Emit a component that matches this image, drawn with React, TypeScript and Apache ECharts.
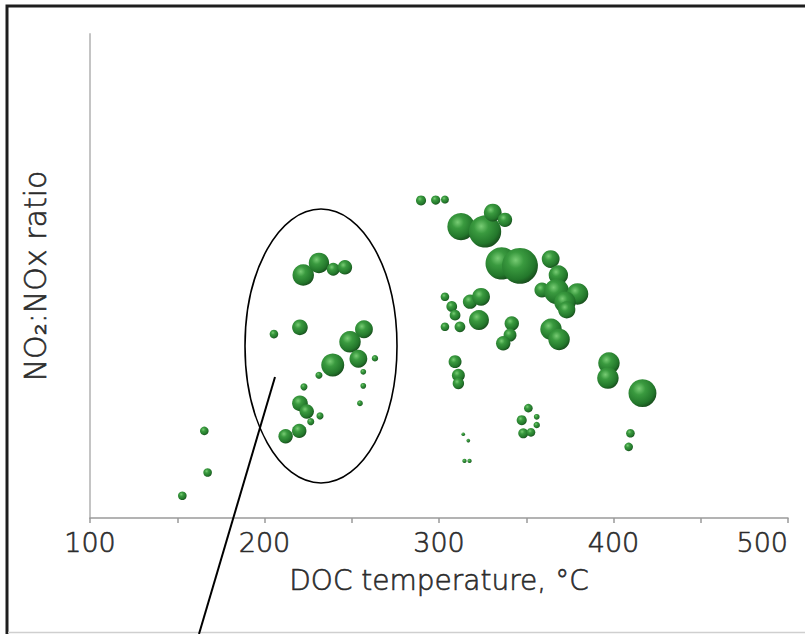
import React, { useEffect, useRef } from "react";
import * as echarts from "echarts";

// DOC temperature (°C)
const docTemperature = [
  152.9, 167.4, 165.5,
  222.2, 231.2, 239.4, 246.1, 205.4, 220.3, 257.0, 249.0, 253.8, 239.1, 263.3, 256.6, 256.6, 254.7,
  231.2, 222.6, 220.3, 224.2, 226.5, 231.8, 219.9, 212.1,
  289.7, 298.1, 303.4, 312.6, 326.4, 330.8, 337.8, 335.9, 346.4, 364.0, 368.4, 359.0, 367.4, 379.4, 372.2, 373.2,
  303.4, 307.3, 309.2, 303.4, 312.0, 317.8, 324.1, 322.9, 341.7, 340.7, 336.8, 364.2, 368.8, 309.2, 311.1, 311.1,
  351.2, 347.4, 356.0, 356.0, 348.3, 352.7, 313.9, 316.8, 314.6, 317.5,
  397.4, 396.8, 416.6, 409.7, 408.7,
];

// NO2:NOx ratio (relative units, axis unlabeled)
const no2NoxRatio = [
  4.6, 9.4, 18.0,
  50.2, 52.7, 51.4, 51.8, 38.0, 39.4, 39.0, 36.4, 32.9, 31.6, 33.0, 30.2, 27.3, 23.7,
  29.5, 27.1, 23.7, 22.0, 19.9, 21.1, 18.0, 16.9,
  65.6, 65.7, 65.8, 60.2, 59.2, 63.1, 61.6, 52.6, 52.1, 53.5, 50.2, 47.1, 46.8, 46.3, 44.6, 43.0,
  45.7, 43.7, 41.9, 39.5, 39.5, 44.7, 45.7, 40.9, 40.2, 37.8, 36.1, 39.0, 36.9, 32.3, 29.5, 27.8,
  22.7, 20.2, 20.9, 19.2, 17.5, 17.7, 17.3, 16.0, 11.8, 11.8,
  32.0, 28.9, 25.8, 17.5, 14.7,
];

// Bubble magnitude (third variable)
const bubbleWeight = [
  4, 4, 4,
  10, 9.5, 6, 6.7, 4, 7.3, 8.3, 10, 8.3, 10.7, 3, 2.7, 2.7, 2.7,
  3.3, 3.3, 7.3, 6.7, 3.3, 3.3, 6.7, 6.7,
  4.7, 4.3, 3.7, 12.7, 15, 8.3, 6.7, 15, 16.7, 8.3, 9, 7, 11.7, 10, 10, 8,
  4, 5, 5, 4, 5, 6.7, 8.3, 9.3, 6.7, 6, 6.7, 10, 10, 6, 6, 5.3,
  4, 4.7, 2.7, 3, 4.7, 4, 1.7, 1.7, 2, 2,
  10, 10, 13, 4, 4,
];

const xTicks = [100, 200, 300, 400, 500];

export default function App() {
  const ref = useRef<HTMLDivElement>(null);

  useEffect(() => {
    document.documentElement.style.overflow = "hidden";
    document.body.style.margin = "0";
    document.body.style.overflow = "hidden";
    if (!ref.current) return;
    const chart = echarts.init(ref.current, undefined, { renderer: "svg" });
    const data = docTemperature.map((t, i) => [t, no2NoxRatio[i], bubbleWeight[i]]);
    const bubbleFill = new echarts.graphic.RadialGradient(0.38, 0.34, 0.75, [
      { offset: 0, color: "#78cc74" },
      { offset: 0.3, color: "#3a9a3f" },
      { offset: 0.72, color: "#23772b" },
      { offset: 1, color: "#143c17" },
    ]);
    const textStyle = {
      color: "#2b2b2b",
      fontFamily: "'DejaVu Sans', 'Open Sans', sans-serif",
      fontWeight: 200,
      textBorderColor: "#2b2b2b",
      textBorderWidth: 0.6,
    };
    chart.setOption({
      animation: false,
      backgroundColor: "#ffffff",
      grid: {
        left: 90,
        right: 17,
        top: 34,
        bottom: 116,
        containLabel: false,
        outerBoundsMode: "none",
      },
      xAxis: {
        type: "value",
        min: xTicks[0],
        max: xTicks[xTicks.length - 1],
        interval: 50,
        name: "DOC temperature, °C",
        nameLocation: "middle",
        nameGap: 48,
        nameTextStyle: { fontSize: 28, ...textStyle },
        axisLine: { show: true, lineStyle: { color: "#9a9a9a", width: 1.5 } },
        axisTick: { show: true, length: 5, lineStyle: { color: "#9a9a9a", width: 1.5 } },
        axisLabel: {
          fontSize: 27,
          ...textStyle,
          margin: 11,
          alignMaxLabel: "right",
          formatter: (v: number) => (xTicks.includes(v) ? String(v) : ""),
        },
        splitLine: { show: false },
      },
      yAxis: {
        type: "value",
        min: 0,
        max: 100,
        name: "NO₂:NOx ratio",
        nameLocation: "middle",
        nameGap: 40,
        nameTextStyle: { fontSize: 30, ...textStyle },
        axisLine: { show: true, lineStyle: { color: "#c4c4c4", width: 2 } },
        axisTick: { show: false },
        axisLabel: { show: false },
        splitLine: { show: false },
      },
      series: [
        {
          type: "scatter",
          data,
          symbolSize: (v: number[]) => v[2] * 2.15,
          itemStyle: { color: bubbleFill, opacity: 1 },
        },
      ],
      graphic: [
        {
          type: "rect",
          silent: true,
          z: 100,
          shape: { x: 7, y: 6, width: 830, height: 660 },
          style: { fill: "none", stroke: "#1e1e1e", lineWidth: 3 },
        },
        {
          type: "line",
          silent: true,
          z: 100,
          shape: { x1: 8, y1: 632.5, x2: 805, y2: 632.5 },
          style: { stroke: "#cfcfcf", lineWidth: 1.5 },
        },
        {
          type: "ellipse",
          silent: true,
          z: 100,
          shape: { cx: 321, cy: 346, rx: 76, ry: 137 },
          style: { fill: "none", stroke: "#000", lineWidth: 1.6 },
        },
        {
          type: "line",
          silent: true,
          z: 100,
          shape: { x1: 275, y1: 377, x2: 199, y2: 634 },
          style: { stroke: "#000", lineWidth: 2 },
        },
      ],
    });
    return () => chart.dispose();
  }, []);

  return (
    <div
      ref={ref}
      style={{ position: "fixed", left: 0, top: 0, width: 805, height: 634, background: "#fff" }}
    />
  );
}
